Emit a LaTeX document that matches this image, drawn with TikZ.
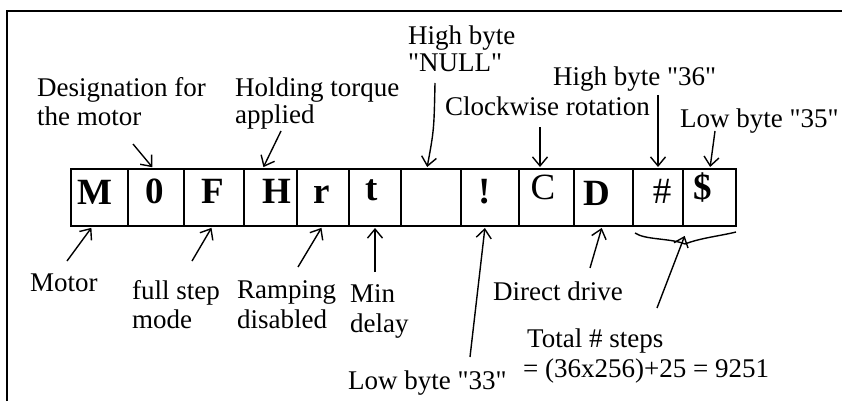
\documentclass[tikz,border=0pt]{standalone}
\usepackage{fontspec}
\setmainfont{Liberation Serif}
\usetikzlibrary{arrows.meta}
\newcommand{\dq}{\textquotedbl}
\begin{document}
\begin{tikzpicture}[x=1pt,y=-1pt,
  lbl/.style={anchor=base west, inner sep=0pt, font=\fontsize{27}{30}\selectfont},
  cell/.style={draw, line width=2pt, minimum height=57pt, inner sep=0pt},
  sym/.style={anchor=base, inner sep=0pt, font=\fontsize{37}{40}\selectfont\bfseries},
  symr/.style={sym, font=\fontsize{37}{40}\selectfont},
  ptr/.style={line width=1.4pt, shorten >=1pt, -{Straight Barb[length=9pt,width=15pt]}},
  brace/.style={line width=1.4pt}]
\useasboundingbox (0,0) rectangle (842,401);

% outer frame (open at right and bottom)
\draw[line width=2pt] (6.5,401) -- (6.5,11) -- (842,11);

% command byte cells
\node[cell, minimum width=57pt] (cM)    at (99.5,197.5) {};
\node[cell, minimum width=56pt] (c0)    at (156,197.5) {};
\node[cell, minimum width=60pt] (cF)    at (214,197.5) {};
\node[cell, minimum width=53pt] (cH)    at (270.5,197.5) {};
\node[cell, minimum width=52pt] (cr)    at (323,197.5) {};
\node[cell, minimum width=52pt] (ct)    at (375,197.5) {};
\node[cell, minimum width=60pt] (cNul)  at (431,197.5) {};
\node[cell, minimum width=58pt] (cEx)   at (490,197.5) {};
\node[cell, minimum width=55pt] (cC)    at (546.5,197.5) {};
\node[cell, minimum width=59pt] (cD)    at (603.5,197.5) {};
\node[cell, minimum width=50pt] (cHash) at (658,197.5) {};
\node[cell, minimum width=53pt] (cDol)  at (709.5,197.5) {};

% characters in the cells
\node[sym]  (sM)    at (95,204)  {M};
\node[sym]  (s0)    at (155,203) {0};
\node[sym]  (sF)    at (213,203) {F};
\node[sym]  (sH)    at (277,203) {H};
\node[sym]  (sr)    at (322,203) {r};
\node[sym]  (st)    at (372,200) {t};
\node[sym]  (sEx)   at (485,203) {!};
\node[symr] (sC)    at (543,199) {C};
\node[sym]  (sD)    at (597,205) {D};
\node[symr] (sHash) at (662,203) {\#};
\node[sym]  (sDol)  at (703,199) {\$};

% labels above
\node[lbl] (lDes1) at (37,96)   {Designation for};
\node[lbl] (lDes2) at (37,125)  {the motor};
\node[lbl] (lHol1) at (235,96)  {Holding torque};
\node[lbl] (lHol2) at (235,124) {applied};
\node[lbl] (lNul1) at (408,45)  {High byte};
\node[lbl] (lNul2) at (408,72)  {\dq NULL\dq};
\node[lbl] (lHi)   at (553,86)  {High byte \dq 36\dq};
\node[lbl] (lCw)   at (445,115) {Clockwise rotation};
\node[lbl] (lLo35) at (680,128) {Low byte \dq 35\dq};

% labels below
\node[lbl] (lMot)  at (30,291)  {Motor};
\node[lbl] (lFs1)  at (132,299) {full step};
\node[lbl] (lFs2)  at (132,328) {mode};
\node[lbl] (lRa1)  at (237,298) {Ramping};
\node[lbl] (lRa2)  at (237,328) {disabled};
\node[lbl] (lMi1)  at (350,302) {Min};
\node[lbl] (lMi2)  at (350,332) {delay};
\node[lbl] (lLo33) at (348,389) {Low byte \dq 33\dq};
\node[lbl] (lDir)  at (493,300) {Direct drive};
\node[lbl] (lTot1) at (527,347) {Total \# steps};
\node[lbl] (lTot2) at (523,377) {= (36x256)+25 = 9251};

% pointer tails
\coordinate (tDes)  at (133,144);
\coordinate (tHol)  at (281,131);
\coordinate (tNul)  at (435,83);
\coordinate (tCw)   at (540,127);
\coordinate (tHi)   at (658,95);
\coordinate (tLo35) at (715,131);
\coordinate (tMot)  at (67,261);
\coordinate (tFs)   at (192,261);
\coordinate (tRa)   at (298,267);
\coordinate (tMi)   at (375,272);
\coordinate (tLo33) at (470,357);
\coordinate (tDir)  at (590,268);
\coordinate (tTot)  at (657,308);

% brace under the step count bytes
\coordinate (bL)   at (635,233);
\coordinate (bTip) at (685,244);
\coordinate (bR)   at (736,232);
\draw[brace] (bL) .. controls (645,240) and (670,238) .. (bTip)
             .. controls (700,238) and (720,236) .. (bR);

% pointers from above
\draw[ptr] (tDes)  -- ([xshift=-3pt]c0.north);
\draw[ptr] (tHol)  -- ([xshift=-7.5pt]cH.north);
\draw[ptr] (tNul)  .. controls (434,130) .. ([xshift=-4pt]cNul.north);
\draw[ptr] (tCw)   -- ([xshift=-6.5pt]cC.north);
\draw[ptr] (tHi)   -- (cHash.north);
\draw[ptr] (tLo35) -- ([xshift=0.5pt]cDol.north);

% pointers from below
\draw[ptr] (tMot)  -- ([xshift=-7.5pt]cM.south);
\draw[ptr] (tFs)   -- ([xshift=-2pt]cF.south);
\draw[ptr] (tRa)   -- ([xshift=-1pt]cr.south);
\draw[ptr] (tMi)   -- (ct.south);
\draw[ptr] (tLo33) -- ([xshift=-5pt]cEx.south);
\draw[ptr] (tDir)  -- ([xshift=-1.5pt]cD.south);
\draw[ptr] (tTot)  -- ([yshift=9pt]bTip);
\end{tikzpicture}
\end{document}
